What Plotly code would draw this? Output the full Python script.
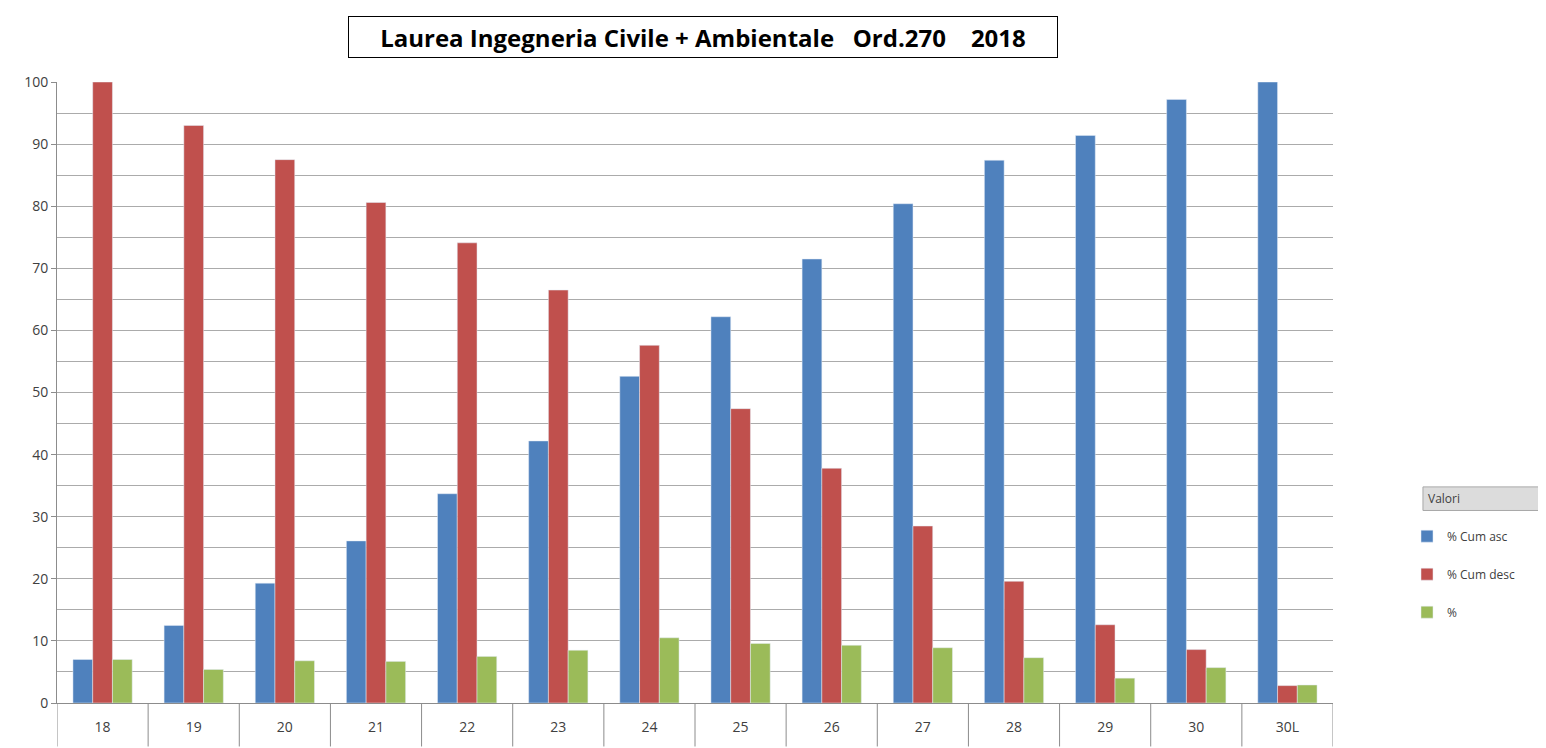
import plotly.graph_objs as go

voti = ['18', '19', '20', '21', '22', '23', '24', '25', '26', '27', '28', '29', '30', '30L']
cum_asc = [7.0, 12.5, 19.3, 26.1, 33.7, 42.2, 52.6, 62.2, 71.5, 80.4, 87.4, 91.4, 97.2, 100.0]
cum_desc = [100.0, 93.0, 87.5, 80.6, 74.1, 66.5, 57.6, 47.4, 37.8, 28.5, 19.6, 12.6, 8.6, 2.8]
perc = [7.0, 5.4, 6.8, 6.7, 7.5, 8.5, 10.5, 9.6, 9.3, 8.9, 7.3, 4.0, 5.7, 2.9]
y_ticks = [0, 10, 20, 30, 40, 50, 60, 70, 80, 90, 100]

title_text = 'Laurea Ingegneria Civile + Ambientale   Ord.270    2018'

fig = go.Figure()
fig.add_trace(go.Bar(x = voti, y = cum_asc, name = '% Cum asc',
                     marker_color = '#4F81BD', legendgroup = 'a'))
fig.add_trace(go.Bar(x = voti, y = cum_desc, name = '% Cum desc',
                     marker_color = '#C0504D', legendgroup = 'b'))
fig.add_trace(go.Bar(x = voti, y = perc, name = '%',
                     marker_color = '#9BBB59', legendgroup = 'c'))

# separatori tra le categorie sotto l'asse x
for i in range(len(voti) + 1):
    fig.add_shape(type = 'line', xref = 'x', yref = 'paper',
                  x0 = i - 0.5, x1 = i - 0.5, y0 = 0, y1 = -0.07,
                  line = dict(color = '#8c8c8c', width = 1))

# intestazione della legenda
fig.add_shape(type = 'rect', xref = 'paper', yref = 'paper',
              x0 = 1.0705, x1 = 1.3, y0 = 0.310, y1 = 0.348,
              fillcolor = '#dcdcdc', line = dict(color = '#a8a8a8', width = 1),
              layer = 'below')
fig.add_annotation(text = 'Valori', xref = 'paper', yref = 'paper',
                   x = 1.073, y = 0.329, xanchor = 'left', yanchor = 'middle',
                   showarrow = False, font = dict(size = 12, color = '#404040'))

fig.add_annotation(text = '<b>' + title_text + '</b>', xref = 'paper', yref = 'paper',
                   x = 0.506, y = 1.073, xanchor = 'center', yanchor = 'middle',
                   showarrow = False, width = 706, height = 38,
                   bordercolor = '#000000', borderwidth = 1, bgcolor = 'white',
                   font = dict(family = 'Open Sans', size = 24, color = '#000000'))

# la pagina ha 8px di margine nel body: la figura parte da (8, 8)
fig.update_layout(
    width = 1538, height = 740,
    margin = dict(l = 49, r = 213, t = 74, b = 43),
    plot_bgcolor = 'white', paper_bgcolor = 'white',
    barmode = 'group', bargap = 0.35, bargroupgap = 0,
    font = dict(family = 'Open Sans', size = 14, color = '#404040'),
    showlegend = True,
    legend = dict(x = 1.058, y = 0.292, xanchor = 'left', yanchor = 'top',
                  traceorder = 'grouped', tracegroupgap = 19,
                  font = dict(size = 12, color = '#404040'),
                  itemwidth = 30, bgcolor = 'rgba(0,0,0,0)'),
)
fig.update_xaxes(type = 'category', showgrid = False, showline = True,
                 linecolor = '#8c8c8c', linewidth = 1, ticks = '',
                 ticklabelstandoff = 11, range = [-0.5, len(voti) - 0.5])
fig.update_yaxes(range = [0, 100], tickvals = y_ticks, showgrid = True,
                 gridcolor = '#ababab', gridwidth = 1, showline = True,
                 linecolor = '#8c8c8c', linewidth = 1, ticks = 'outside',
                 ticklen = 5, tickcolor = '#8c8c8c', zeroline = False,
                 minor = dict(dtick = 5, showgrid = True, gridcolor = '#ababab'))

fig.write_html("out.html")
